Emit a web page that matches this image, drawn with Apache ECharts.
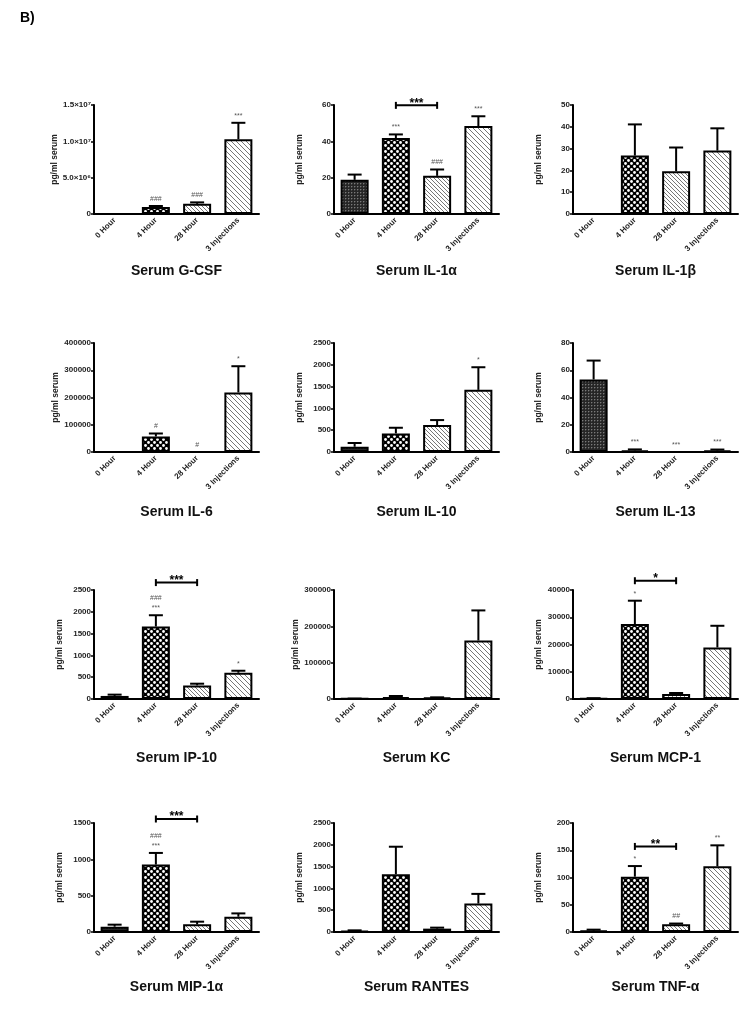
<!DOCTYPE html>
<html><head><meta charset="utf-8">
<script src="https://cdn.jsdelivr.net/npm/echarts@6/dist/echarts.min.js"></script>
<style>html,body{margin:0;padding:0;background:#fff}#c{width:750px;height:1012px}</style>
</head><body><div id="c"></div>
<script>
// ---------- DATA ----------
const categories = ['0 Hour', '4 Hour', '28 Hour', '3 Injections'];

const gcsfMean = [0, 950000, 1400000, 10300000];
const gcsfSem = [0, 150000, 200000, 2250000];
const gcsfAnn = ['', '###', '###', '***'];
const gcsfTicks = [0, 5000000, 10000000, 15000000];
const gcsfTickLabels = ['0', '5.0×10⁶', '1.0×10⁷', '1.5×10⁷'];

const il1aMean = [18.8, 41.8, 21.0, 48.4];
const il1aSem = [2.9, 2.0, 3.5, 5.4];
const il1aAnn = ['', '***', '###', '***'];
const il1aTicks = [0, 20, 40, 60];
const il1aBracket = [1, 59.8, 2, '***'];

const il1bMean = [0, 26.8, 19.6, 29.1];
const il1bSem = [0, 14.3, 10.9, 10.2];
const il1bAnn = ['', '', '', ''];
const il1bTicks = [0, 10, 20, 30, 40, 50];

const il6Mean = [0, 56800, 0, 218500];
const il6Sem = [0, 11100, 0, 96300];
const il6Ann = ['', '#', '#', '*'];
const il6Ticks = [0, 100000, 200000, 300000, 400000];

const il10Mean = [120, 427, 617, 1425];
const il10Sem = [86, 129, 115, 519];
const il10Ann = ['', '', '', '*'];
const il10Ticks = [0, 500, 1000, 1500, 2000, 2500];

const il13Mean = [53.2, 1.2, 0, 1.1];
const il13Sem = [13.9, 0.7, 0, 0.7];
const il13Ann = ['', '***', '***', '***'];
const il13Ticks = [0, 20, 40, 60, 80];

const ip10Mean = [70, 1662, 312, 602];
const ip10Sem = [30, 259, 39, 46];
const ip10Ann = ['', '###\n***', '', '*'];
const ip10Ticks = [0, 500, 1000, 1500, 2000, 2500];
const ip10Bracket = [1, 2670, 2, '***'];

const kcMean = [800, 5500, 3700, 161000];
const kcSem = [300, 2800, 900, 82800];
const kcAnn = ['', '', '', ''];
const kcTicks = [0, 100000, 200000, 300000];

const mcp1Mean = [200, 27500, 1840, 18900];
const mcp1Sem = [100, 8570, 360, 7970];
const mcp1Ann = ['', '*', '', ''];
const mcp1Ticks = [0, 10000, 20000, 30000, 40000];
const mcp1Bracket = [1, 43400, 2, '*'];

const mip1aMean = [73, 928, 105, 210];
const mip1aSem = [28, 160, 37, 46];
const mip1aAnn = ['', '###\n***', '', ''];
const mip1aTicks = [0, 500, 1000, 1500];
const mip1aBracket = [1, 1555, 2, '***'];

const rantesMean = [23, 1327, 77, 652];
const rantesSem = [15, 629, 23, 222];
const rantesAnn = ['', '', '', ''];
const rantesTicks = [0, 500, 1000, 1500, 2000, 2500];

const tnfaMean = [2.4, 101.5, 14, 120.5];
const tnfaSem = [1.9, 19.5, 1.5, 38.5];
const tnfaAnn = ['', '*', '##', '**'];
const tnfaTicks = [0, 50, 100, 150, 200];
const tnfaBracket = [1, 157, 2, '**'];

const panels = [
  {title: 'Serum G-CSF', mean: gcsfMean, sem: gcsfSem, ann: gcsfAnn, ticks: gcsfTicks, tickLabels: gcsfTickLabels},
  {title: 'Serum IL-1α', mean: il1aMean, sem: il1aSem, ann: il1aAnn, ticks: il1aTicks, bracket: il1aBracket},
  {title: 'Serum IL-1β', mean: il1bMean, sem: il1bSem, ann: il1bAnn, ticks: il1bTicks},
  {title: 'Serum IL-6', mean: il6Mean, sem: il6Sem, ann: il6Ann, ticks: il6Ticks},
  {title: 'Serum IL-10', mean: il10Mean, sem: il10Sem, ann: il10Ann, ticks: il10Ticks},
  {title: 'Serum IL-13', mean: il13Mean, sem: il13Sem, ann: il13Ann, ticks: il13Ticks},
  {title: 'Serum IP-10', mean: ip10Mean, sem: ip10Sem, ann: ip10Ann, ticks: ip10Ticks, bracket: ip10Bracket},
  {title: 'Serum KC', mean: kcMean, sem: kcSem, ann: kcAnn, ticks: kcTicks},
  {title: 'Serum MCP-1', mean: mcp1Mean, sem: mcp1Sem, ann: mcp1Ann, ticks: mcp1Ticks, bracket: mcp1Bracket},
  {title: 'Serum MIP-1α', mean: mip1aMean, sem: mip1aSem, ann: mip1aAnn, ticks: mip1aTicks, bracket: mip1aBracket},
  {title: 'Serum RANTES', mean: rantesMean, sem: rantesSem, ann: rantesAnn, ticks: rantesTicks},
  {title: 'Serum TNF-α', mean: tnfaMean, sem: tnfaSem, ann: tnfaAnn, ticks: tnfaTicks, bracket: tnfaBracket}
];

// ---------- LAYOUT / STYLE ----------
const FONT = '"Liberation Sans", Arial, sans-serif';
const colLeft = [94, 334, 573];
const gridW = 165;
const rowTop = [105, 343, 590, 823];
const gridH = 109;
const titleY = [271, 512, 758, 987];

function makePattern(size, draw) {
  const c = document.createElement('canvas');
  c.width = size; c.height = size;
  const g = c.getContext('2d');
  draw(g, size);
  return {image: c, repeat: 'repeat'};
}
const patterns = [
  // 0 Hour: dense dark mesh
  makePattern(3, (g, n) => {
    g.fillStyle = '#262626'; g.fillRect(0, 0, n, n);
    g.fillStyle = '#7a7a7a'; g.fillRect(0, 0, 1, 1);
    g.fillStyle = '#444'; g.fillRect(1, 0, 1, 1); g.fillRect(0, 1, 1, 1);
  }),
  // 4 Hour: black with white dots
  makePattern(6, (g, n) => {
    g.fillStyle = '#000'; g.fillRect(0, 0, n, n);
    g.fillStyle = '#fff';
    g.beginPath(); g.arc(1.5, 1.5, 1.4, 0, Math.PI * 2); g.fill();
    g.beginPath(); g.arc(4.5, 4.5, 1.4, 0, Math.PI * 2); g.fill();
  }),
  // 28 Hour: fine diagonal hatch
  makePattern(4, (g, n) => {
    g.fillStyle = '#fff'; g.fillRect(0, 0, n, n);
    g.fillStyle = '#777';
    for (let i = 0; i < n; i++) g.fillRect(i, i, 1, 1);
  }),
  // 3 Injections: wider diagonal hatch
  makePattern(5, (g, n) => {
    g.fillStyle = '#fff'; g.fillRect(0, 0, n, n);
    g.fillStyle = '#777';
    for (let i = 0; i < n; i++) g.fillRect(i, i, 1, 1);
  })
];

const grid = [], xAxis = [], yAxis = [], series = [], graphic = [];

graphic.push({type: 'text', x: 20, y: 18, style: {text: 'B)', font: 'bold 14px ' + FONT, fill: '#000', textAlign: 'left', textVerticalAlign: 'middle', align: 'left', verticalAlign: 'middle'}});

panels.forEach((p, i) => {
  const r = Math.floor(i / 3), c = i % 3;
  grid.push({left: colLeft[c], top: rowTop[r], width: gridW, height: gridH, containLabel: false});
  graphic.push({type: 'text', x: colLeft[c] + gridW / 2, y: titleY[r], style: {text: p.title, font: 'bold 14px ' + FONT, fill: '#111', textAlign: 'center', textVerticalAlign: 'middle', align: 'center', verticalAlign: 'middle'}});
  xAxis.push({
    type: 'category', gridIndex: i, data: categories,
    axisLine: {lineStyle: {color: '#000', width: 2}},
    axisTick: {alignWithLabel: true, length: 4, lineStyle: {color: '#000', width: 1.5}},
    axisLabel: {rotate: 45, interval: 0, fontSize: 8, fontWeight: 'bold', color: '#222', margin: 5, fontFamily: FONT}
  });
  const t = p.ticks;
  yAxis.push({
    type: 'value', gridIndex: i, min: t[0], max: t[t.length - 1], interval: t[1] - t[0],
    axisLine: {show: true, lineStyle: {color: '#000', width: 2}},
    axisTick: {show: true, length: 3, lineStyle: {color: '#000', width: 1.5}},
    splitLine: {show: false},
    axisLabel: {fontSize: 8, fontWeight: 'bold', color: '#222', margin: 3, fontFamily: FONT,
      formatter: v => p.tickLabels ? p.tickLabels[t.indexOf(v)] : String(v)},
    name: 'pg/ml serum', nameLocation: 'middle', nameGap: 30,
    nameTextStyle: {fontSize: 8.5, fontWeight: 'bold', color: '#222', fontFamily: FONT}
  });
  series.push({
    type: 'bar', xAxisIndex: i, yAxisIndex: i, barWidth: 28, z: 2,
    data: p.mean.map((v, j) => ({value: v, itemStyle: {color: patterns[j], borderColor: '#000', borderWidth: 2}})),
    silent: true
  });
  series.push({
    type: 'custom', xAxisIndex: i, yAxisIndex: i, z: 3, silent: true,
    data: p.mean.map((v, j) => [j, v, p.sem[j]]),
    renderItem: (params, api) => {
      const j = api.value(0), m = api.value(1), s = api.value(2);
      if (!s) return null;
      const b = api.coord([j, m]), tp = api.coord([j, m + s]);
      const hw = 7;
      return {type: 'group', children: [
        {type: 'line', shape: {x1: b[0], y1: b[1], x2: tp[0], y2: tp[1]}, style: {stroke: '#000', lineWidth: 2}},
        {type: 'line', shape: {x1: tp[0] - hw, y1: tp[1], x2: tp[0] + hw, y2: tp[1]}, style: {stroke: '#000', lineWidth: 2}}
      ]};
    }
  });
  series.push({
    type: 'custom', xAxisIndex: i, yAxisIndex: i, z: 4, silent: true,
    data: p.mean.map((v, j) => [j, v + p.sem[j]]),
    renderItem: (params, api) => {
      const j = api.value(0);
      const txt = p.ann[j];
      if (!txt) return null;
      const pt = api.coord([j, api.value(1)]);
      const lines = txt.split('\n').reverse();
      return {type: 'group', children: lines.map((tx, k) => ({
        type: 'text', x: pt[0], y: pt[1] - 7 - k * 10,
        style: {text: tx, fill: '#555', font: '7px ' + FONT, textAlign: 'center', textVerticalAlign: 'middle', align: 'center', verticalAlign: 'middle'}
      }))};
    }
  });
  if (p.bracket) {
    const br = p.bracket;
    series.push({
      type: 'custom', xAxisIndex: i, yAxisIndex: i, z: 4, silent: true, clip: false,
      data: [[br[0], br[1], br[2]]],
      renderItem: (params, api) => {
        const a = api.coord([api.value(0), api.value(1)]);
        const b = api.coord([api.value(2), api.value(1)]);
        const ls = {stroke: '#000', lineWidth: 2};
        return {type: 'group', children: [
          {type: 'line', shape: {x1: a[0], y1: a[1], x2: b[0], y2: b[1]}, style: ls},
          {type: 'line', shape: {x1: a[0], y1: a[1] - 3.5, x2: a[0], y2: a[1] + 3.5}, style: ls},
          {type: 'line', shape: {x1: b[0], y1: b[1] - 3.5, x2: b[0], y2: b[1] + 3.5}, style: ls},
          {type: 'text', x: (a[0] + b[0]) / 2, y: a[1] - 2, style: {text: br[3], fill: '#000', font: 'bold 12px ' + FONT, textAlign: 'center', textVerticalAlign: 'middle', align: 'center', verticalAlign: 'middle'}}
        ]};
      }
    });
  }
});

const chart = echarts.init(document.getElementById('c'), null, {renderer: 'canvas'});
chart.setOption({
  animation: false,
  backgroundColor: '#fff',
  textStyle: {fontFamily: FONT},
  grid, xAxis, yAxis, series, graphic
});
</script>
</body></html>
